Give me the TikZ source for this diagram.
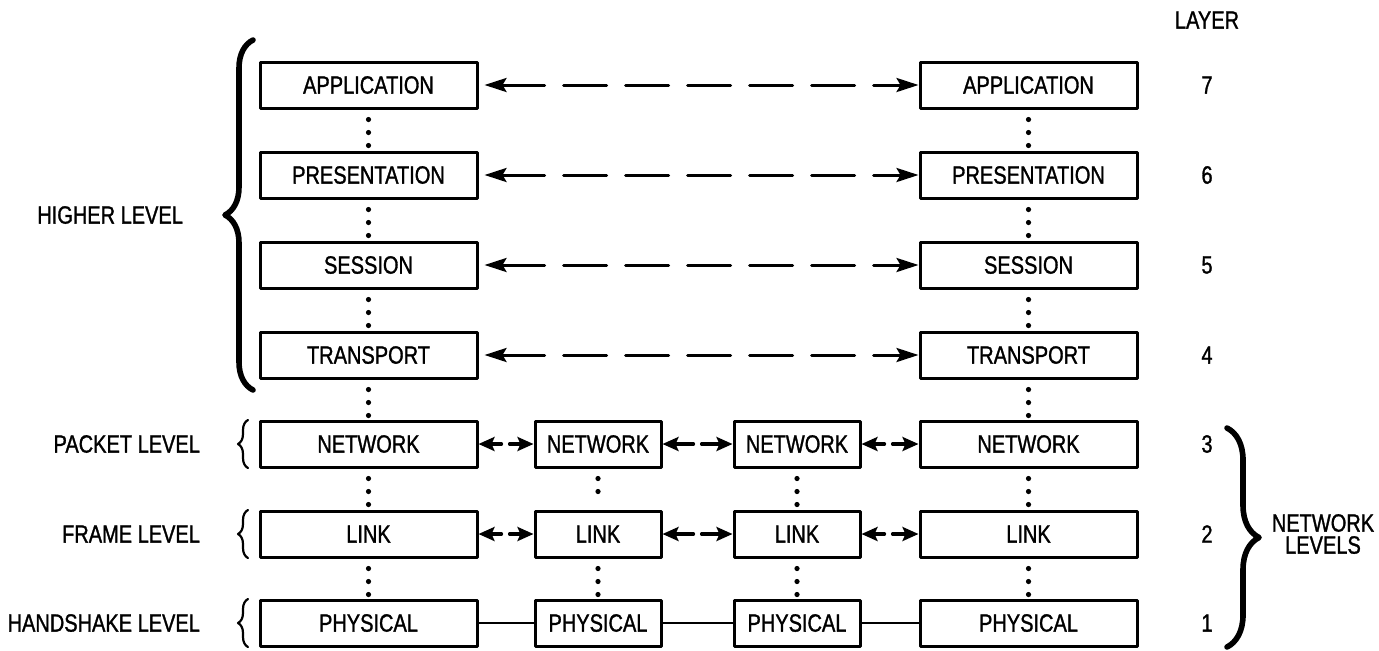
\documentclass[tikz,border=0pt]{standalone}
\usepackage{fontspec}
\setmainfont{Liberation Sans}[FakeStretch=0.8, FakeBold=1.2]
\usetikzlibrary{arrows.meta, calc, decorations.pathreplacing}

\begin{document}
\begin{tikzpicture}[line cap=round,line join=round,x=0.5pt,y=-0.5pt,
    font=\fontsize{12.5}{11}\selectfont,
    layer/.style={draw, line width=1.5pt, inner sep=0pt, minimum width=108.5pt, minimum height=23pt},
    relay/.style={layer, minimum width=63pt},
    vdots/.style={line width=2.6pt, dash pattern=on 0pt off 6.5pt, dash phase=1.5pt},
    peer/.style={line width=1.5pt, arrows={Stealth[length=11pt,width=7pt,inset=2pt]-Stealth[length=11pt,width=7pt,inset=2pt]}, dash pattern=on 21.5pt off 9.5pt, shorten <=3pt},
    hop/.style={line width=1.6pt, arrows={Stealth[length=8pt,width=7pt,inset=1.5pt]-Stealth[length=8pt,width=7pt,inset=1.5pt]}, dash pattern=on #1 off 4pt on 40pt off 0pt},
    wire/.style={line width=1.2pt},
    bigbrace/.style={decorate, decoration={brace, amplitude=#1}, line width=2.8pt},
    levelbrace/.style={decorate, decoration={brace, amplitude=5pt}, line width=1.1pt}]

    \useasboundingbox (0,0) rectangle (1379,650);

    % end system A
    \node[layer] (L7) at (368.5,85) {APPLICATION};
    \node[layer] (L6) at (368.5,175) {PRESENTATION};
    \node[layer] (L5) at (368.5,265) {SESSION};
    \node[layer] (L4) at (368.5,355) {TRANSPORT};
    \node[layer] (L3) at (368.5,444) {NETWORK};
    \node[layer] (L2) at (368.5,534) {LINK};
    \node[layer] (L1) at (368.5,623) {PHYSICAL};

    % relay nodes
    \node[relay] (M3) at (598,444) {NETWORK};
    \node[relay] (M2) at (598,534) {LINK};
    \node[relay] (M1) at (598,623) {PHYSICAL};
    \node[relay] (N3) at (797,444) {NETWORK};
    \node[relay] (N2) at (797,534) {LINK};
    \node[relay] (N1) at (797,623) {PHYSICAL};

    % end system B
    \node[layer] (R7) at (1028.5,85) {APPLICATION};
    \node[layer] (R6) at (1028.5,175) {PRESENTATION};
    \node[layer] (R5) at (1028.5,265) {SESSION};
    \node[layer] (R4) at (1028.5,355) {TRANSPORT};
    \node[layer] (R3) at (1028.5,444) {NETWORK};
    \node[layer] (R2) at (1028.5,534) {LINK};
    \node[layer] (R1) at (1028.5,623) {PHYSICAL};

    % layer numbers
    \node (layer) at (1207,20) {LAYER};
    \node (n7) at (1207,85) {7};
    \node (n6) at (1207,175) {6};
    \node (n5) at (1207,265) {5};
    \node (n4) at (1207,355) {4};
    \node (n3) at (1207,444) {3};
    \node (n2) at (1207,534) {2};
    \node (n1) at (1207,623) {1};

    % level names
    \node[anchor=east] (higher) at (190,215) {HIGHER LEVEL};
    \node[anchor=east] (packet) at (207,444) {PACKET LEVEL};
    \node[anchor=east] (frame) at (207,534) {FRAME LEVEL};
    \node[anchor=east] (handshake) at (207,623) {HANDSHAKE LEVEL};
    \node[align=center] (netlevels) at (1323,534) {NETWORK\\LEVELS};

    % braces
    \draw[bigbrace=14pt] (253,390) -- (253,40);
    \draw[levelbrace] (248,468) -- (248,420);
    \draw[levelbrace] (248,558) -- (248,510);
    \draw[levelbrace] (248,647) -- (248,599);
    \draw[bigbrace=16pt] (1227,428) -- (1227,647);

    % vertical dots
    \draw[vdots] (L7) -- (L6) (L6) -- (L5) (L5) -- (L4) (L4) -- (L3) (L3) -- (L2) (L2) -- (L1);
    \draw[vdots] (R7) -- (R6) (R6) -- (R5) (R5) -- (R4) (R4) -- (R3) (R3) -- (R2) (R2) -- (R1);
    \draw[vdots, shorten >=8pt] (M3) -- (M2);
    \draw[vdots] (M2) -- (M1);
    \draw[vdots] (N3) -- (N2) (N2) -- (N1);

    % peer protocols
    \draw[peer] (L7) -- (R7);
    \draw[peer] (L6) -- (R6);
    \draw[peer] (L5) -- (R5);
    \draw[peer] (L4) -- (R4);

    \draw[hop=5.5pt] (L3) -- (M3);
    \draw[hop=9.5pt] (M3) -- (N3);
    \draw[hop=5.5pt] (N3) -- (R3);
    \draw[hop=5.5pt] (L2) -- (M2);
    \draw[hop=9.5pt] (M2) -- (N2);
    \draw[hop=5.5pt] (N2) -- (R2);

    % physical medium
    \draw[wire] (L1) -- (M1);
    \draw[wire] (M1) -- (N1);
    \draw[wire] (N1) -- (R1);

\end{tikzpicture}
\end{document}
